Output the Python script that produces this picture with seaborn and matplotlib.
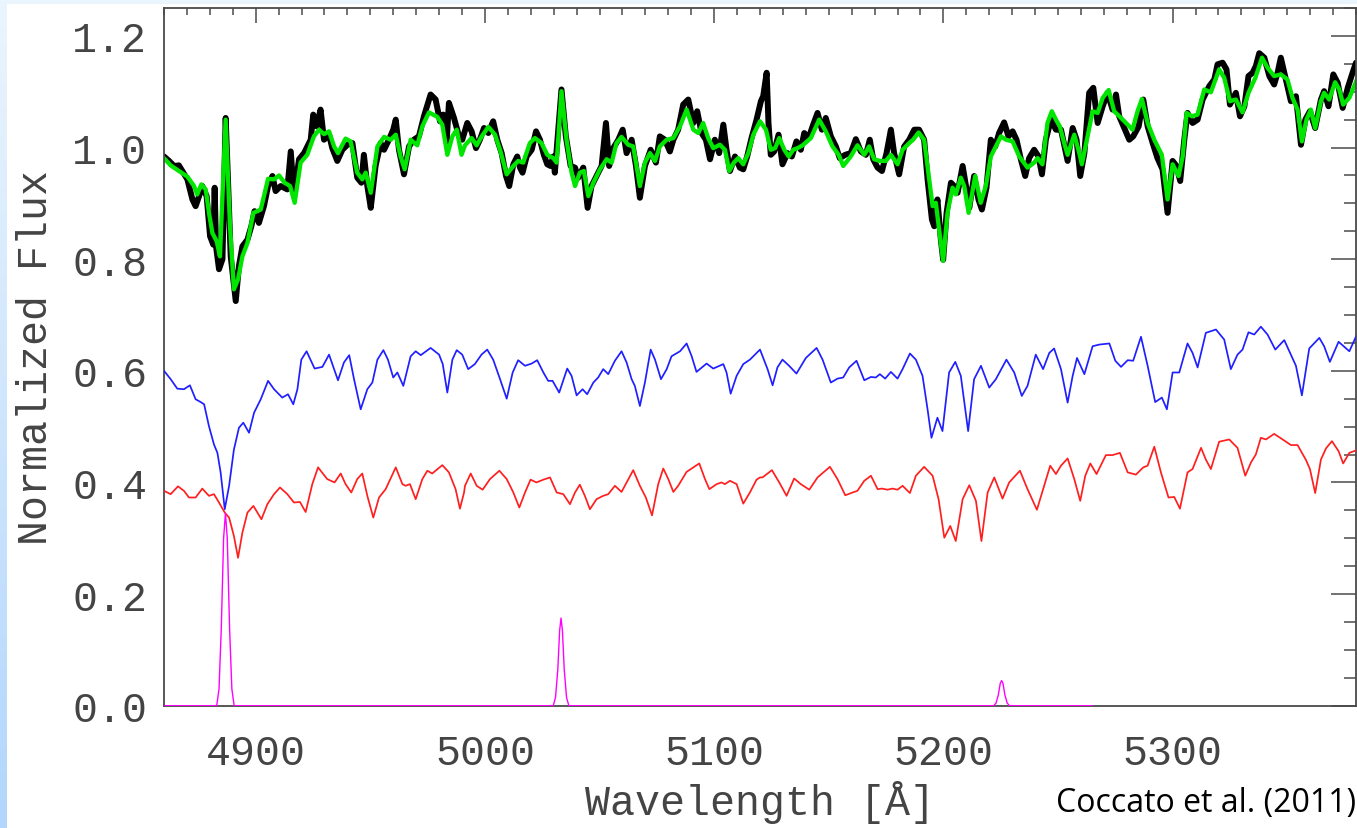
import numpy as np
import pandas as pd
import matplotlib
matplotlib.use("Agg")
import matplotlib.pyplot as plt
from matplotlib.patches import Rectangle
from matplotlib.colors import LinearSegmentedColormap
from matplotlib.ticker import MultipleLocator, FormatStrFormatter
import seaborn as sns

# ---------------- observed spectrum (black) ----------------
wl_obs = [
    4860.0, 4862.2, 4864.4, 4866.5, 4868.0, 4870.2, 4872.4, 4873.8, 4875.3, 4876.7,
    4878.6, 4880.1, 4881.5, 4882.1, 4882.7, 4884.0, 4885.5, 4886.9, 4887.9, 4889.1,
    4891.3, 4892.7, 4894.2, 4896.4, 4898.1, 4899.5, 4901.4, 4903.6, 4905.4, 4907.3,
    4908.7, 4910.9, 4913.8, 4915.3, 4916.7, 4918.9, 4921.1, 4924.0, 4925.1, 4926.6,
    4928.3, 4929.8, 4932.0, 4933.4, 4935.6, 4937.8, 4940.0, 4942.2, 4944.3, 4946.1,
    4947.2, 4948.7, 4950.2, 4952.3, 4954.5, 4956.0, 4958.1, 4960.0, 4961.1, 4962.5,
    4964.7, 4966.9, 4969.0, 4971.2, 4973.4, 4976.3, 4978.5, 4980.4, 4981.8, 4983.3,
    4984.3, 4986.5, 4988.7, 4990.1,
    4992.3, 4994.2, 4996.1, 4997.8, 4999.6, 5001.5, 5003.6, 5005.4, 5007.3, 5009.2,
    5010.6, 5012.4, 5014.1, 5015.3, 5016.4, 5018.2, 5020.4, 5022.3, 5024.0, 5025.7,
    5027.2, 5028.6, 5029.8, 5030.5, 5033.4, 5035.3, 5037.4, 5039.3, 5040.7, 5042.9,
    5044.8, 5046.5, 5048.7, 5050.9, 5052.8, 5054.2, 5056.0, 5058.2, 5060.1, 5061.8,
    5064.0, 5065.9, 5067.6, 5069.8, 5072.3, 5074.6, 5076.3, 5078.5, 5080.7, 5082.2,
    5084.3, 5086.5, 5088.7, 5090.9, 5092.6, 5094.5, 5096.4, 5098.2, 5100.3, 5102.2,
    5104.0, 5105.4, 5106.9, 5109.1, 5111.2, 5112.7, 5114.4, 5116.3, 5118.5,
    5120.4, 5121.4, 5122.9, 5123.7, 5124.7, 5126.2, 5128.1, 5129.8, 5132.0, 5133.9,
    5135.9, 5137.8, 5139.3, 5141.2, 5143.2, 5145.1, 5147.0, 5148.7, 5150.9, 5153.1,
    5154.8, 5157.2, 5159.6, 5161.8, 5164.0, 5166.2, 5167.9, 5169.4, 5171.3, 5173.2,
    5175.2, 5177.1, 5178.5, 5180.7, 5182.9, 5185.1, 5187.3, 5189.4, 5191.6, 5193.1,
    5195.0, 5196.0, 5197.4, 5198.9, 5199.9, 5201.4, 5203.3, 5204.7, 5206.2, 5208.4,
    5210.1, 5211.3, 5213.4, 5215.3, 5216.8, 5218.8, 5220.7, 5222.6, 5224.3, 5226.5,
    5228.4, 5230.2, 5231.9, 5233.8, 5235.7, 5237.4, 5239.6, 5241.5, 5243.0, 5244.7,
    5246.9, 5249.1,
    5251.3, 5254.2, 5256.4, 5258.1, 5259.7, 5261.5, 5263.6, 5265.4, 5267.3, 5269.5,
    5271.6, 5273.8, 5275.3, 5276.7, 5278.9, 5281.1, 5282.8, 5285.2, 5287.2, 5289.1,
    5291.3, 5293.4, 5295.6, 5297.8, 5300.0, 5301.7, 5303.3, 5305.1, 5306.5, 5308.7,
    5310.9, 5313.1, 5316.0, 5318.2, 5319.6, 5321.8, 5323.5, 5325.0, 5327.6, 5329.4,
    5331.3, 5333.1, 5334.9, 5336.3, 5337.8, 5340.0, 5342.2, 5344.3, 5345.8, 5347.2,
    5349.4, 5351.6, 5353.8, 5356.0, 5357.9, 5359.9, 5362.2, 5364.7, 5366.1, 5368.0,
    5370.1, 5372.0, 5374.2, 5376.4, 5378.5, 5380.0,
]
flux_obs = [
    0.984, 0.976, 0.967, 0.968, 0.958, 0.943, 0.907, 0.895, 0.913, 0.931,
    0.913, 0.841, 0.826, 0.928, 0.823, 0.782, 0.800, 1.053, 0.943, 0.805,
    0.725, 0.788, 0.823, 0.835, 0.859, 0.886, 0.865, 0.895, 0.931, 0.949,
    0.922, 0.931, 0.925, 0.993, 0.913, 0.979, 0.990, 1.014, 1.059, 1.038,
    1.068, 1.014, 1.023, 0.999, 0.976, 0.996, 1.005, 1.008, 0.946, 0.937,
    0.987, 0.931, 0.892, 0.967, 1.008, 0.996, 1.014, 1.032, 1.050, 0.996,
    0.952, 1.002, 1.014, 1.020, 1.056, 1.095, 1.086, 1.047, 1.059, 1.011,
    1.080, 1.053, 1.020, 1.014,
    1.044, 1.029, 0.999, 1.014, 1.035, 1.026, 1.047, 1.014, 0.990, 0.949,
    0.931, 0.970, 0.984, 0.964, 0.955, 0.984, 0.996, 1.029, 1.014, 0.987,
    0.970, 0.967, 0.984, 0.955, 1.104, 1.020, 0.967, 0.964, 0.946, 0.964,
    0.892, 0.931, 0.949, 0.967, 1.044, 0.967, 0.999, 1.014, 1.032, 0.990,
    1.014, 0.967, 0.910, 0.967, 0.996, 0.973, 1.020, 1.014, 0.993, 1.014,
    1.032, 1.077, 1.086, 1.044, 1.065, 1.026, 1.014, 0.979, 1.014, 0.990,
    1.041, 0.996, 0.958, 0.984, 0.964, 0.961, 0.984, 1.017, 1.050,
    1.083, 1.092, 1.134, 1.044, 0.987, 0.993, 1.023, 0.970, 0.990, 0.984,
    1.011, 0.996, 1.026, 1.017, 1.041, 1.062, 1.032, 1.053, 1.020, 1.002,
    0.981, 0.987, 0.990, 1.015, 0.993, 0.987, 1.014, 0.979, 0.964, 0.958,
    0.990, 1.032, 0.990, 0.952, 1.002, 1.014, 1.032, 1.032, 1.014, 0.943,
    0.871, 0.859, 0.907, 0.835, 0.799, 0.883, 0.937, 0.931, 0.919, 0.967,
    0.925, 0.892, 0.949, 0.907, 0.889, 0.928, 1.014, 1.002, 1.026, 1.045,
    1.020, 1.029, 1.014, 0.979, 0.949, 0.981, 0.996, 0.984, 0.952, 1.014,
    1.050, 1.032,
    1.032, 0.976, 1.035, 1.014, 0.949, 0.990, 1.098, 1.107, 1.044, 1.074,
    1.098, 1.068, 1.095, 1.056, 1.035, 1.014, 1.020, 1.038, 1.086, 1.038,
    1.008, 0.981, 0.961, 0.883, 0.976, 0.967, 0.940, 1.014, 1.062, 1.044,
    1.050, 1.086, 1.110, 1.122, 1.149, 1.152, 1.140, 1.077, 1.098, 1.056,
    1.074, 1.128, 1.134, 1.146, 1.169, 1.161, 1.128, 1.113, 1.134, 1.161,
    1.122, 1.083, 1.092, 1.005, 1.050, 1.065, 1.035, 1.086, 1.101, 1.074,
    1.131, 1.116, 1.071, 1.107, 1.134, 1.152,
]

# ---------------- best-fitting model (green) ----------------
wl_fit = [
    4860.0, 4862.9, 4866.5, 4870.2, 4873.1, 4874.5, 4876.3, 4878.2, 4879.6, 4881.1,
    4883.0, 4884.4, 4886.9, 4888.8, 4890.5, 4892.3, 4894.2, 4896.4, 4899.0, 4902.2,
    4905.4, 4908.0, 4910.2, 4912.6, 4915.0, 4917.0, 4919.6, 4922.5, 4925.4, 4927.6,
    4929.8, 4932.0, 4934.2, 4935.9, 4939.2, 4941.4, 4944.3, 4946.5, 4948.0, 4950.2,
    4953.1, 4956.0, 4958.9, 4961.1, 4963.2, 4965.0, 4967.6, 4970.5, 4972.7, 4975.6,
    4979.2, 4981.4, 4983.6, 4985.8, 4987.7, 4989.8,
    4991.3, 4994.2, 4996.4, 4998.6, 5001.5, 5004.4, 5006.6, 5009.5, 5012.4, 5014.5,
    5016.7, 5019.6, 5021.8, 5024.7, 5027.2, 5029.8, 5031.3, 5033.4, 5035.6, 5037.8,
    5039.3, 5041.4, 5043.2, 5045.1, 5047.3, 5050.2, 5053.1, 5055.3, 5057.4, 5059.6,
    5062.5, 5064.7, 5067.6, 5069.8, 5072.0, 5074.2, 5076.3, 5079.3, 5082.2, 5085.1,
    5088.0, 5090.9, 5093.1, 5095.2, 5097.4, 5099.6, 5102.5, 5104.7, 5106.6, 5108.6,
    5110.5, 5112.7, 5114.9, 5117.1, 5120.0,
    5122.6, 5124.7, 5126.6, 5128.4, 5130.6, 5132.5, 5134.5, 5136.4, 5138.6, 5142.2,
    5145.8, 5148.7, 5151.6, 5154.3, 5156.3, 5159.6, 5162.5, 5165.5, 5167.6, 5169.8,
    5172.3, 5174.9, 5177.1, 5180.0, 5182.2, 5185.1, 5186.8, 5189.2, 5191.6, 5193.8,
    5195.3, 5196.7, 5198.5, 5199.9, 5201.8, 5204.0, 5205.4, 5207.6, 5209.1, 5211.0,
    5213.9, 5216.3, 5218.5, 5220.7, 5222.9, 5225.1, 5227.3, 5230.2, 5233.1, 5236.7,
    5239.6, 5241.1, 5243.2, 5245.4, 5247.3, 5249.1,
    5250.8, 5252.7, 5254.2, 5257.1, 5259.3, 5260.4, 5262.9, 5265.1, 5267.3, 5269.5,
    5272.1, 5274.5, 5277.5, 5280.4, 5282.5, 5284.7, 5286.6, 5289.1, 5292.0, 5295.3,
    5297.8, 5300.0, 5302.6, 5304.4, 5306.1, 5308.4, 5310.9, 5313.8, 5316.7, 5320.3,
    5322.5, 5325.0, 5327.6, 5330.5, 5333.1, 5336.1, 5339.0, 5341.4, 5344.3, 5347.2,
    5350.1, 5352.3, 5354.5, 5356.4, 5358.4, 5360.3, 5362.2, 5364.7, 5366.1, 5368.3,
    5370.9, 5372.7, 5374.4, 5377.1, 5380.4,
]
flux_fit = [
    0.981, 0.968, 0.958, 0.948, 0.931, 0.916, 0.934, 0.925, 0.883, 0.847,
    0.832, 0.805, 1.050, 0.859, 0.746, 0.764, 0.805, 0.829, 0.883, 0.889,
    0.944, 0.943, 0.950, 0.937, 0.931, 0.901, 0.973, 0.987, 1.020, 1.032,
    1.024, 1.029, 1.002, 0.990, 1.016, 1.011, 0.955, 0.943, 0.955, 0.919,
    1.002, 1.019, 1.014, 1.023, 0.984, 0.961, 1.014, 1.004, 1.038, 1.063,
    1.055, 1.041, 0.987, 1.020, 1.032, 0.987,
    1.004, 1.017, 1.004, 1.020, 1.037, 1.023, 0.996, 0.952, 0.967, 0.976,
    0.973, 1.008, 1.017, 1.008, 0.987, 0.981, 0.973, 1.101, 1.014, 0.955,
    0.931, 0.955, 0.958, 0.913, 0.937, 0.961, 0.979, 0.973, 1.008, 1.019,
    1.005, 1.002, 0.931, 0.973, 0.990, 0.976, 1.002, 1.014, 1.017, 1.038,
    1.068, 1.032, 1.026, 1.044, 1.017, 0.999, 1.005, 0.996, 0.958, 0.973,
    0.981, 0.970, 0.990, 1.023, 1.047,
    1.032, 0.996, 0.999, 1.017, 0.996, 0.984, 0.996, 0.999, 1.004, 1.017,
    1.050, 1.029, 1.002, 0.987, 0.967, 0.984, 1.004, 0.987, 1.002, 0.979,
    0.976, 0.976, 0.987, 0.970, 0.996, 1.008, 1.014, 1.027, 1.014, 0.943,
    0.895, 0.901, 0.841, 0.797, 0.883, 0.928, 0.916, 0.946, 0.931, 0.883,
    0.949, 0.901, 0.931, 0.984, 1.002, 1.020, 1.014, 1.011, 0.984, 0.964,
    0.973, 0.981, 0.970, 1.044, 1.065, 1.050,
    1.038, 1.008, 0.987, 1.023, 0.990, 0.970, 1.020, 1.065, 1.062, 1.089,
    1.103, 1.065, 1.053, 1.041, 1.032, 1.065, 1.087, 1.044, 1.014, 0.987,
    0.907, 0.970, 0.949, 0.984, 1.062, 1.056, 1.059, 1.104, 1.099, 1.140,
    1.125, 1.083, 1.086, 1.063, 1.098, 1.125, 1.161, 1.143, 1.128, 1.131,
    1.122, 1.089, 1.068, 1.011, 1.050, 1.068, 1.035, 1.083, 1.098, 1.086,
    1.117, 1.104, 1.077, 1.089, 1.122,
]

# ---------------- first stellar component (blue) ----------------
wl_comp1 = [
    4860.0, 4862.9, 4865.8, 4868.7, 4871.3, 4873.8, 4876.0, 4877.5, 4879.6, 4881.8,
    4883.3, 4884.7, 4886.5, 4888.4, 4890.5, 4892.7, 4894.6, 4897.1, 4899.3, 4902.2,
    4905.4, 4908.0, 4911.6, 4914.1, 4916.4, 4918.2, 4919.9, 4922.2, 4925.7, 4929.1,
    4932.0, 4935.9, 4938.5, 4940.8, 4942.9, 4945.8, 4948.7, 4950.9, 4953.1, 4955.7,
    4957.7, 4960.0, 4961.8, 4964.4, 4967.6, 4969.8, 4972.0, 4976.3, 4980.0, 4981.6,
    4983.6, 4985.8, 4987.7, 4990.1,
    4992.7, 4995.6, 4998.5, 5001.0, 5003.6, 5006.6, 5009.5, 5012.1, 5014.5, 5017.5,
    5020.4, 5022.8, 5025.5, 5027.6, 5029.5, 5032.4, 5035.9, 5037.8, 5040.0, 5042.6,
    5044.6, 5047.3, 5049.4, 5051.6, 5053.8, 5056.7, 5059.6, 5061.8, 5064.0, 5065.4,
    5067.6, 5069.8, 5072.3, 5074.2, 5076.8, 5079.3, 5081.4, 5085.1, 5088.0, 5090.2,
    5092.3, 5096.7, 5099.6, 5104.0, 5105.4, 5107.2, 5109.8, 5112.7, 5115.6, 5120.0,
    5123.3, 5125.5, 5127.6, 5129.8, 5132.7, 5135.9, 5140.0, 5144.7, 5147.3, 5150.9,
    5153.8, 5156.3, 5158.9, 5162.1, 5165.5, 5168.4, 5170.5, 5172.3, 5174.6, 5177.1,
    5180.0, 5182.2, 5185.4, 5188.0, 5190.9, 5193.1, 5194.8, 5197.4, 5199.6, 5202.5,
    5205.2, 5207.6, 5210.8, 5213.4, 5216.4, 5220.0, 5222.9, 5227.5, 5230.9, 5234.2,
    5236.7, 5240.3, 5243.5, 5246.2, 5248.3,
    5251.3, 5254.2, 5256.4, 5258.3, 5261.5, 5265.1, 5268.0, 5272.4, 5275.0, 5277.5,
    5280.4, 5282.8, 5286.2, 5289.1, 5292.4, 5295.3, 5297.5, 5300.0, 5302.9, 5306.5,
    5308.7, 5310.9, 5314.5, 5318.9, 5322.5, 5325.4, 5328.3, 5330.5, 5333.1, 5335.6,
    5338.5, 5341.4, 5344.8, 5348.7, 5351.6, 5353.8, 5356.4, 5359.6, 5364.0, 5366.1,
    5368.6, 5372.4, 5377.1, 5380.4,
]
flux_comp1 = [
    0.600, 0.585, 0.568, 0.567, 0.574, 0.549, 0.544, 0.540, 0.501, 0.468,
    0.453, 0.418, 0.352, 0.394, 0.459, 0.498, 0.507, 0.489, 0.525, 0.549,
    0.582, 0.567, 0.552, 0.558, 0.540, 0.567, 0.620, 0.635, 0.604, 0.607,
    0.629, 0.583, 0.615, 0.628, 0.585, 0.531, 0.567, 0.579, 0.620, 0.637,
    0.620, 0.588, 0.597, 0.573, 0.626, 0.635, 0.628, 0.641, 0.629, 0.612,
    0.561, 0.620, 0.637, 0.629,
    0.603, 0.612, 0.629, 0.638, 0.620, 0.585, 0.550, 0.597, 0.619, 0.609,
    0.613, 0.619, 0.597, 0.582, 0.582, 0.561, 0.604, 0.591, 0.556, 0.567,
    0.558, 0.579, 0.588, 0.603, 0.594, 0.618, 0.635, 0.615, 0.585, 0.573,
    0.537, 0.579, 0.638, 0.620, 0.585, 0.603, 0.626, 0.635, 0.649, 0.626,
    0.598, 0.613, 0.604, 0.612, 0.597, 0.559, 0.591, 0.612, 0.620, 0.638,
    0.603, 0.574, 0.606, 0.620, 0.609, 0.595, 0.623, 0.641, 0.620, 0.579,
    0.586, 0.588, 0.606, 0.618, 0.583, 0.589, 0.588, 0.594, 0.586, 0.598,
    0.586, 0.603, 0.631, 0.620, 0.591, 0.531, 0.480, 0.516, 0.492, 0.597,
    0.616, 0.591, 0.492, 0.585, 0.609, 0.570, 0.585, 0.620, 0.597, 0.555,
    0.573, 0.629, 0.603, 0.632, 0.640,
    0.603, 0.543, 0.591, 0.623, 0.594, 0.644, 0.647, 0.649, 0.618, 0.607,
    0.619, 0.618, 0.661, 0.609, 0.544, 0.552, 0.531, 0.597, 0.597, 0.649,
    0.632, 0.606, 0.668, 0.674, 0.656, 0.603, 0.629, 0.638, 0.669, 0.665,
    0.679, 0.665, 0.638, 0.655, 0.629, 0.609, 0.556, 0.640, 0.659, 0.644,
    0.616, 0.652, 0.635, 0.665,
]

# ---------------- second stellar component (red) ----------------
wl_comp2 = [
    4860.0, 4862.9, 4866.1, 4868.7, 4870.9, 4873.8, 4876.7, 4879.6, 4881.8, 4884.0,
    4886.5, 4888.4, 4890.5, 4892.3, 4894.2, 4896.4, 4899.0, 4902.5, 4905.1, 4908.0,
    4910.6, 4913.8, 4916.7, 4919.3, 4921.8, 4924.7, 4927.2, 4931.2, 4934.4, 4937.1,
    4939.2, 4941.7, 4944.3, 4946.5, 4948.7, 4951.3, 4953.8, 4956.7, 4961.1, 4964.0,
    4965.4, 4967.3, 4969.8, 4972.7, 4974.9, 4977.0, 4981.4, 4984.3, 4987.2, 4989.1,
    4990.9,
    4991.3, 4993.8, 4996.4, 4999.0, 5002.2, 5006.3, 5009.5, 5012.4, 5015.0, 5017.5,
    5019.9, 5022.5, 5025.5, 5028.4, 5031.3, 5034.2, 5037.1, 5039.3, 5041.4, 5043.6,
    5045.8, 5048.7, 5051.6, 5053.8, 5056.7, 5059.6, 5061.8, 5064.7, 5067.6, 5070.2,
    5072.9, 5075.6, 5077.8, 5080.0, 5082.2, 5084.3, 5088.0, 5090.9, 5093.5, 5096.0,
    5097.9, 5101.1, 5103.2, 5104.7, 5106.9, 5109.8, 5112.7, 5115.6, 5118.5, 5120.0,
    5121.1, 5125.2, 5128.4, 5131.6, 5134.9, 5137.8, 5141.5, 5145.1, 5150.5, 5153.8,
    5157.2, 5160.4, 5162.5, 5165.5, 5168.4, 5171.3, 5173.2, 5175.6, 5177.8, 5180.0,
    5182.2, 5185.4, 5188.0, 5191.6, 5195.3, 5197.9, 5200.4, 5203.0, 5205.4, 5208.4,
    5211.3, 5214.2, 5216.6, 5219.3, 5222.2, 5225.8, 5228.7, 5233.4, 5236.7, 5240.8,
    5243.5, 5246.6, 5249.1,
    5251.3, 5254.2, 5257.1, 5259.7, 5261.9, 5264.1, 5266.8, 5270.9, 5273.8, 5277.0,
    5280.4, 5284.0, 5287.2, 5289.1, 5292.0, 5294.9, 5298.2, 5300.7, 5303.2, 5306.5,
    5308.7, 5312.4, 5314.5, 5316.7, 5320.3, 5324.7, 5328.3, 5331.7, 5334.2, 5336.3,
    5338.5, 5340.7, 5344.3, 5348.0, 5351.6, 5354.5, 5358.2, 5359.9, 5362.2, 5364.7,
    5366.9, 5369.5, 5372.4, 5374.4, 5377.1, 5380.4,
]
flux_comp2 = [
    0.385, 0.379, 0.393, 0.385, 0.373, 0.373, 0.389, 0.376, 0.379, 0.364,
    0.346, 0.337, 0.304, 0.265, 0.310, 0.346, 0.358, 0.334, 0.361, 0.379,
    0.391, 0.379, 0.364, 0.365, 0.347, 0.397, 0.427, 0.406, 0.400, 0.416,
    0.397, 0.382, 0.406, 0.416, 0.376, 0.337, 0.373, 0.388, 0.427, 0.397,
    0.394, 0.397, 0.370, 0.406, 0.421, 0.416, 0.431, 0.418, 0.388, 0.353,
    0.382,
    0.394, 0.416, 0.394, 0.387, 0.406, 0.421, 0.406, 0.382, 0.355, 0.382,
    0.405, 0.400, 0.405, 0.409, 0.382, 0.379, 0.361, 0.382, 0.396, 0.376,
    0.352, 0.370, 0.376, 0.379, 0.394, 0.383, 0.400, 0.422, 0.394, 0.373,
    0.341, 0.397, 0.425, 0.406, 0.383, 0.394, 0.419, 0.427, 0.434, 0.406,
    0.388, 0.397, 0.400, 0.397, 0.403, 0.397, 0.362, 0.382, 0.405, 0.409,
    0.409, 0.422, 0.400, 0.376, 0.407, 0.397, 0.387, 0.409, 0.428, 0.406,
    0.377, 0.382, 0.385, 0.403, 0.412, 0.388, 0.389, 0.387, 0.389, 0.387,
    0.394, 0.381, 0.412, 0.428, 0.412, 0.370, 0.301, 0.322, 0.295, 0.370,
    0.395, 0.367, 0.295, 0.382, 0.409, 0.371, 0.400, 0.421, 0.388, 0.351,
    0.388, 0.430, 0.415,
    0.430, 0.443, 0.406, 0.367, 0.412, 0.434, 0.415, 0.449, 0.449, 0.453,
    0.418, 0.414, 0.427, 0.430, 0.464, 0.418, 0.373, 0.374, 0.353, 0.418,
    0.424, 0.462, 0.441, 0.424, 0.473, 0.477, 0.462, 0.412, 0.436, 0.450,
    0.480, 0.477, 0.487, 0.477, 0.467, 0.467, 0.440, 0.424, 0.381, 0.441,
    0.461, 0.474, 0.456, 0.434, 0.453, 0.458,
]

# ---------------- ionised-gas emission lines (magenta) ----------------
wl_gas = [
    4860.0, 4883.0, 4884.0, 4885.0, 4886.0, 4886.8, 4887.6, 4888.6, 4889.6, 4890.6,
    5029.8, 5030.8, 5031.8, 5032.6, 5033.2, 5033.8, 5034.6, 5035.6, 5036.6,
    5222.0, 5223.0, 5224.0, 5224.8, 5225.4, 5226.0, 5226.8, 5227.8, 5228.8, 5265.0,
]
flux_gas = [
    0.0, 0.0, 0.03, 0.14, 0.30, 0.345, 0.30, 0.14, 0.03, 0.0,
    0.0, 0.015, 0.065, 0.135, 0.157, 0.135, 0.065, 0.015, 0.0,
    0.0, 0.005, 0.02, 0.04, 0.045, 0.04, 0.02, 0.005, 0.0, 0.0,
]

x_ticks = [4900, 5000, 5100, 5200, 5300]
y_ticks = [0.0, 0.2, 0.4, 0.6, 0.8, 1.0, 1.2]

sns.set_theme(style="white")
plt.rcParams["font.family"] = ["Liberation Mono", "DejaVu Sans Mono"]

W, H = 1357, 829
fig = plt.figure(figsize=(W / 100, H / 100), dpi=100)
fig.patch.set_facecolor("white")

# light blue slide frame along the top and left edges
bg = fig.add_axes([0, 0, 1, 1], zorder=-10)
grad = np.linspace(0, 1, 256)[:, None]
cmap = LinearSegmentedColormap.from_list("frame", ["#ebf5fd", "#b2d6fc"])
bg.imshow(grad, aspect="auto", cmap=cmap, extent=[0, 1, 0, 1], origin="upper")
bg.add_patch(Rectangle((7 / W, 0), 1, 1 - 5 / H, facecolor="white",
                       edgecolor="none", transform=bg.transAxes))
bg.set_xlim(0, 1)
bg.set_ylim(0, 1)
bg.set_axis_off()

ax = fig.add_axes([164 / W, 1 - 706.7 / H, (1356 - 164) / W, (706.7 - 9) / H])
ax.set_facecolor("white")

series = [
    (wl_obs, flux_obs, "#000000", 4.3, 1),
    (wl_fit, flux_fit, "#00e600", 3.1, 2),
    (wl_comp1, flux_comp1, "#1f1fff", 1.25, 3),
    (wl_comp2, flux_comp2, "#ff1f1f", 1.25, 3),
    (wl_gas, flux_gas, "#ff00ff", 1.0, 4),
]
for wl, fl, col, lw, z in series:
    df = pd.DataFrame({"wavelength": wl, "flux": fl})
    sns.lineplot(data=df, x="wavelength", y="flux", color=col, linewidth=lw,
                 estimator=None, sort=False, ax=ax, zorder=z,
                 solid_joinstyle="round")

ax.set_xlim(4860, 5380)
ax.set_ylim(0, 1.25)
ax.set_xticks(x_ticks)
ax.set_yticks(y_ticks)
ax.xaxis.set_minor_locator(MultipleLocator(10))
ax.yaxis.set_minor_locator(MultipleLocator(0.05))
ax.yaxis.set_major_formatter(FormatStrFormatter("%.1f"))

axis_col = "#4a4a4a"
for sp in ax.spines.values():
    sp.set_color(axis_col)
    sp.set_linewidth(1.3)
    sp.set_visible(True)

text_col = "#444444"
ax.tick_params(which="both", direction="in", top=True, right=True,
               color=axis_col, width=1.1, labelcolor=text_col, labelsize=30)
ax.tick_params(axis="x", which="major", length=11, pad=20)
ax.tick_params(axis="x", which="minor", length=5)
ax.tick_params(axis="y", which="major", length=18, pad=12)
ax.tick_params(axis="y", which="minor", length=9)

ax.set_xlabel("Wavelength [Å]", fontsize=30, color=text_col, labelpad=5)
ax.set_ylabel("Normalized Flux", fontsize=30, color=text_col, labelpad=12)

fig.text(1356 / W, 1 - 804 / H, "Coccato et al. (2011)", ha="right",
         va="center", fontsize=23, color="black",
         family=["Open Sans", "DejaVu Sans"])

fig.savefig("out.png", dpi=100)
